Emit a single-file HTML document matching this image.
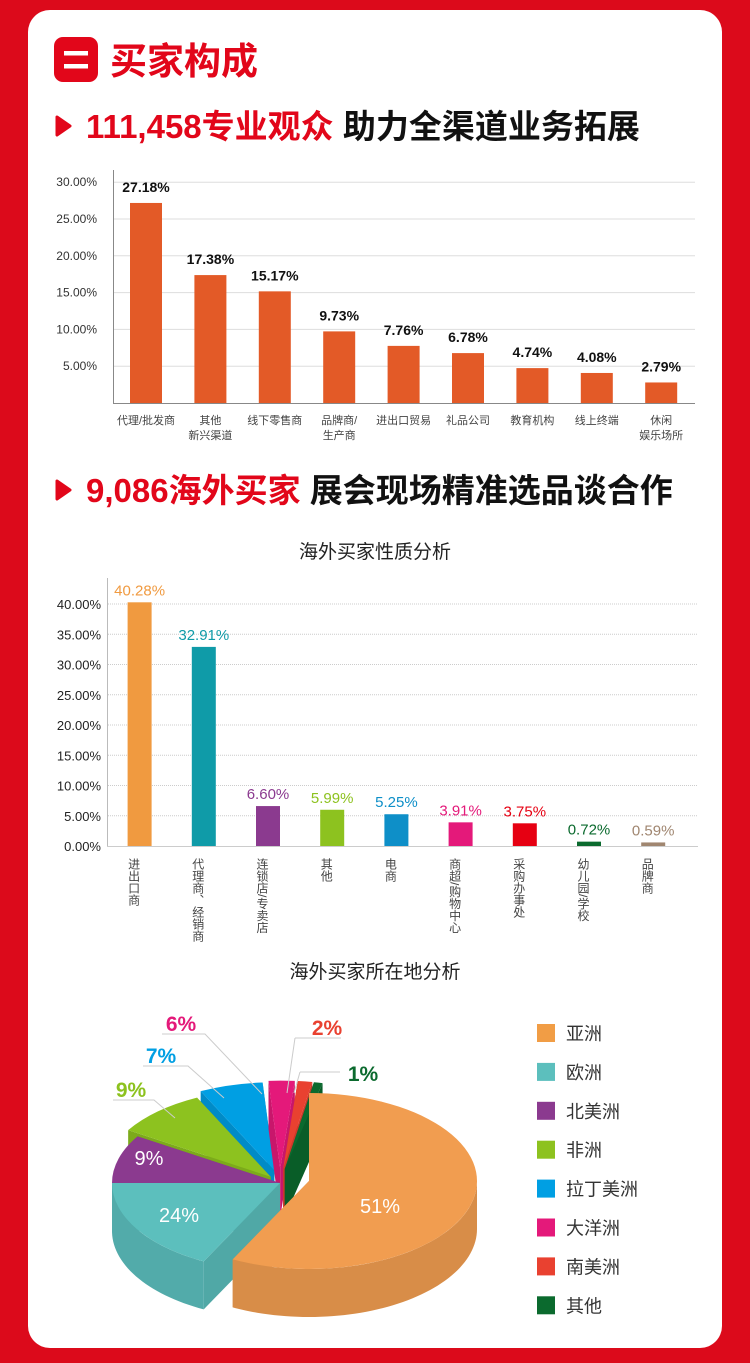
<!DOCTYPE html>
<html><head><meta charset="utf-8"><style>
body{margin:0;width:750px;height:1363px;background:#dc0a1b;overflow:hidden;font-family:"Liberation Sans","Noto Sans CJK SC",sans-serif;}
#card{position:absolute;left:28px;top:10px;width:694px;height:1338px;background:#fff;border-radius:22px;}
svg{position:absolute;left:0;top:0}
</style></head><body>
<div id="card"></div>
<svg width="750" height="1363" xmlns="http://www.w3.org/2000/svg" font-family="Liberation Sans, Noto Sans CJK SC, sans-serif">
<rect x="54" y="37" width="44" height="45" rx="9" fill="#e2061a"/>
<rect x="64" y="51" width="24" height="4.5" fill="#fff"/><rect x="64" y="64" width="24" height="4.5" fill="#fff"/>
<text x="110" y="74" font-size="37" font-weight="bold" fill="#e2061a">买家构成</text>
<path d="M57 117 L70 126 L57 135 Z" fill="#e2061a" stroke="#e2061a" stroke-width="3" stroke-linejoin="round"/>
<text x="86" y="138" font-size="33" font-weight="bold" fill="#e2061a">111,458专业观众 <tspan fill="#111">助力全渠道业务拓展</tspan></text>
<path d="M57 481 L70 490 L57 499 Z" fill="#e2061a" stroke="#e2061a" stroke-width="3" stroke-linejoin="round"/>
<text x="86" y="502" font-size="33" font-weight="bold" fill="#e2061a">9,086海外买家 <tspan fill="#111">展会现场精准选品谈合作</tspan></text>
<g id="c1"></g><g id="c2"></g><g id="pie"></g>
<text x="375" y="558" font-size="19" fill="#222" text-anchor="middle">海外买家性质分析</text>
<text x="375" y="978" font-size="19" fill="#222" text-anchor="middle">海外买家所在地分析</text>
</svg>
<script>
const NS="http://www.w3.org/2000/svg";
function el(p,t,a,txt){const e=document.createElementNS(NS,t);for(const k in a)e.setAttribute(k,a[k]);if(txt!=null)e.textContent=txt;p.appendChild(e);return e;}
let g=document.getElementById('c1');
const b0=403,u=36.8/5;
for(let i=1;i<=6;i++){let y=b0-i*5*u;el(g,'line',{x1:114,x2:695,y1:y,y2:y,stroke:'#ddd','stroke-width':1});el(g,'text',{x:97,y:y+4,'font-size':12,fill:'#333','text-anchor':'end'},(i*5).toFixed(2)+'%');}
el(g,'line',{x1:113.5,x2:113.5,y1:170,y2:403,stroke:'#888'});
el(g,'line',{x1:113,x2:695,y1:403.5,y2:403.5,stroke:'#888'});
const d1=[[27.18,'代理/批发商'],[17.38,'其他','新兴渠道'],[15.17,'线下零售商'],[9.73,'品牌商/','生产商'],[7.76,'进出口贸易'],[6.78,'礼品公司'],[4.74,'教育机构'],[4.08,'线上终端'],[2.79,'休闲','娱乐场所']];
d1.forEach((d,i)=>{let cx=146+i*64.4,h=d[0]*u;el(g,'rect',{x:cx-16,y:b0-h,width:32,height:h,fill:'#e35a27'});
el(g,'text',{x:cx,y:b0-h-11,'font-size':14,'font-weight':'bold',fill:'#111','text-anchor':'middle'},d[0].toFixed(2)+'%');
el(g,'text',{x:cx,y:424,'font-size':11,fill:'#444','text-anchor':'middle'},d[1]);if(d[2])el(g,'text',{x:cx,y:439,'font-size':11,fill:'#444','text-anchor':'middle'},d[2]);});
g=document.getElementById('c2');
const b2=846,u2=30.25/5;
for(let i=0;i<=8;i++){let y=b2-i*5*u2;if(i>0)el(g,'line',{x1:108,x2:698,y1:y,y2:y,stroke:'#ccc','stroke-width':1,'stroke-dasharray':'1 1'});el(g,'text',{x:101,y:y+5,'font-size':13,fill:'#222','text-anchor':'end'},(i*5).toFixed(2)+'%');}
el(g,'line',{x1:107.5,x2:107.5,y1:578,y2:846,stroke:'#bbb'});
el(g,'line',{x1:107,x2:698,y1:846.5,y2:846.5,stroke:'#ccc'});
const d2=[[40.28,'#f09a40','进出口商'],[32.91,'#0f9ba8','代理商、经销商'],[6.60,'#8b3a8f','连锁店/专卖店'],[5.99,'#8dc21f','其他'],[5.25,'#0e8fc8','电商'],[3.91,'#e4197a','商超/购物中心'],[3.75,'#e60012','采购办事处'],[0.72,'#0b6a2e','幼儿园/学校'],[0.59,'#a08670','品牌商']];
d2.forEach((d,i)=>{let cx=139.6+i*64.2,h=d[0]*u2;el(g,'rect',{x:cx-12,y:b2-h,width:24,height:h,fill:d[1]});
el(g,'text',{x:cx,y:b2-h-7,'font-size':15,fill:d[1],'text-anchor':'middle'},d[0].toFixed(2)+'%');
el(g,'text',{x:cx-6,y:858,'font-size':12,fill:'#444',style:'writing-mode:vertical-rl'},d[2]);});
g=document.getElementById('pie');
const RX=168,RY=88,D=48;
function shade(c,f){let n=parseInt(c.slice(1),16);let r=(n>>16)*f,gg=(n>>8&255)*f,b=(n&255)*f;return `rgb(${r|0},${gg|0},${b|0})`;}
function pt(cx,cy,a,dz){let r=a*Math.PI/180;return [cx+RX*Math.cos(r),cy+RY*Math.sin(r)+(dz||0)];}
function slice(cx,cy,a0,a1,c){
 [a0,a1].forEach(a=>{let p=pt(cx,cy,a);el(g,'path',{d:`M${cx},${cy}L${p}L${p[0]},${p[1]+D}L${cx},${cy+D}Z`,fill:shade(c,0.88)});});
 let s=Math.max(a0,0),e=Math.min(a1,180);
 if(e>s){let pts=[];for(let a=s;a<=e;a+=2)pts.push(pt(cx,cy,a));pts.push(pt(cx,cy,e));let back=pts.map(p=>[p[0],p[1]+D]).reverse();el(g,'path',{d:'M'+pts.concat(back).map(p=>p.join(',')).join('L')+'Z',fill:shade(c,0.9)});}
 let p0=pt(cx,cy,a0),p1=pt(cx,cy,a1);
 el(g,'path',{d:`M${cx},${cy}L${p0}A${RX},${RY} 0 ${a1-a0>180?1:0} 1 ${p1}Z`,fill:c});
}
const C=[280,1183];
function ex(a,r){let t=a*Math.PI/180;return [C[0]+r*Math.cos(t),C[1]+r*Math.sin(t)*0.6];}
[[244,266,'#009fe3',22],[266,275,'#e4197a',24],[275,280,'#e94130',24],[280,283,'#0b6a2e',24],[212,244,'#8dc21f',14],[180,212,'#8b3a8f',0]].forEach(s=>{let c=ex((s[0]+s[1])/2,s[3]);slice(c[0],c[1],s[0],s[1],s[2]);});
slice(280,1183,117,180,'#5cbfbd');
slice(309,1181,-90,117,'#f19d50');
el(g,'text',{x:380,y:1213,'font-size':20,fill:'#fff','text-anchor':'middle'},'51%');
el(g,'text',{x:179,y:1222,'font-size':20,fill:'#fff','text-anchor':'middle'},'24%');
el(g,'text',{x:149,y:1165,'font-size':20,fill:'#fff','text-anchor':'middle'},'9%');
[[131,1097,'9%','#8dc21f','M113,1100L154,1100L175,1118'],[161,1063,'7%','#009fe3','M143,1066L188,1066L224,1098'],[181,1031,'6%','#e4197a','M162,1034L205,1034L262,1094'],[327,1035,'2%','#e94130','M295,1038L341,1038M295,1038L287,1093'],[363,1081,'1%','#0b6a2e','M300,1072L340,1072M300,1072L294,1093']].forEach(l=>{el(g,'path',{d:l[4],stroke:'#ccc',fill:'none','stroke-width':1});el(g,'text',{x:l[0],y:l[1],'font-size':21,'font-weight':'bold',fill:l[3],'text-anchor':'middle'},l[2]);});
const lg=[['#f19d45','亚洲'],['#5cbfbd','欧洲'],['#8b3a8f','北美洲'],['#8dc21f','非洲'],['#009fe3','拉丁美洲'],['#e4197a','大洋洲'],['#e94130','南美洲'],['#0b6a2e','其他']];
lg.forEach((l,i)=>{let y=1024+i*38.9;el(g,'rect',{x:537,y:y,width:18,height:18,fill:l[0]});el(g,'text',{x:566,y:y+16,'font-size':18,fill:'#333'},l[1]);});
</script>
</body></html>
